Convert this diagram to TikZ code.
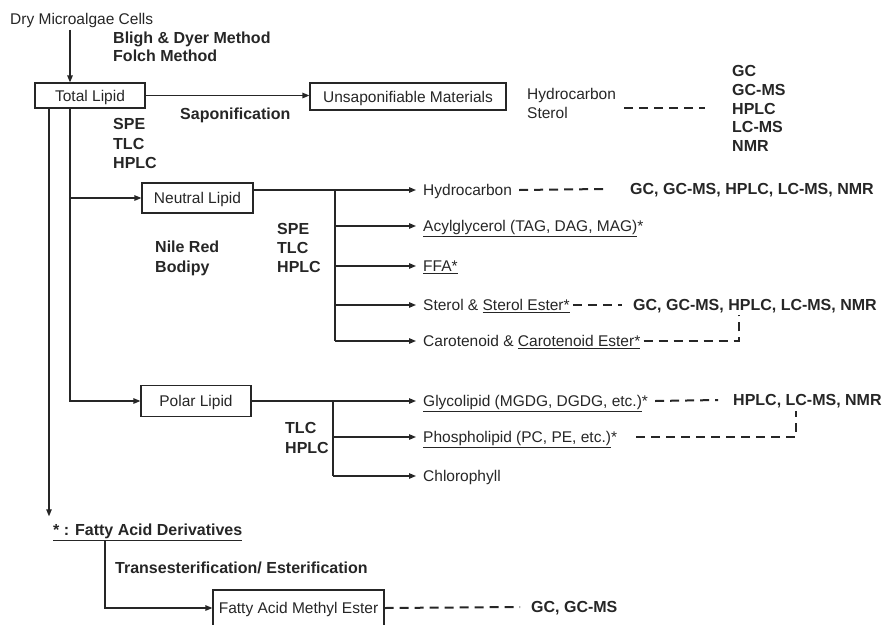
\documentclass[tikz,border=0pt]{standalone}
\usepackage{fontspec}
\setmainfont{Liberation Sans}
\usetikzlibrary{arrows.meta,calc}
\definecolor{ink}{HTML}{262626}
\begin{document}
\begin{tikzpicture}[x=1pt,y=-1pt,
  fbase/.style={font=\fontsize{15.5}{19}\selectfont, text=ink, inner sep=0pt},
  lbl/.style={fbase, text height=11pt, text depth=0pt, anchor=west},
  blbl/.style={lbl, font=\fontsize{16}{19}\selectfont\bfseries},
  itm/.style={lbl, inner xsep=7pt},
  stk/.style={fbase, align=left, anchor=north west},
  bstk/.style={stk, font=\fontsize{16}{#1}\selectfont\bfseries},
  box/.style={fbase, draw=ink, line width=1.2pt, text height=11pt, text depth=0pt},
  conn/.style={draw=ink, line width=1.2pt},
  arr/.style={conn, -{Triangle[length=7pt,width=5.5pt]}},
  dsh/.style={draw=ink, line width=2pt, dash pattern=on 9pt off 6pt}]
\useasboundingbox (0,0) rectangle (882,624);

% texts and boxes
\node[lbl] (dry) at (10,19) {Dry Microalgae Cells};
\node[bstk=18pt] (bligh) at (113,32.2) {Bligh \& Dyer Method\\Folch Method};
\node[box, minimum width=110pt, minimum height=25pt] (total) at (90,95.5) {Total Lipid};
\node[box, minimum width=196pt, minimum height=27pt] (unsap) at (408,96.5) {Unsaponifiable Materials};
\node[blbl] (sapon) at (180,114) {Saponification};
\node[bstk=19.5pt] (spe1) at (113,118.2) {SPE\\TLC\\HPLC};
\node[stk, font=\fontsize{15.5}{19}\selectfont] (hs) at (527,88) {Hydrocarbon\\Sterol};
\node[bstk=18.75pt] (gcs) at (732,65.2) {GC\\GC-MS\\HPLC\\LC-MS\\NMR};

\node[box, minimum width=111pt, minimum height=30pt] (neutral) at (197.5,198) {Neutral Lipid};
\node[bstk=20pt] (nile) at (155,241.2) {Nile Red\\Bodipy};
\node[bstk=19pt] (spe2) at (277,223.2) {SPE\\TLC\\HPLC};

\node[itm] (hc) at (416,190) {Hydrocarbon};
\node[itm] (acyl) at (416,226) {\underline{Acylglycerol (TAG, DAG, MAG)}*};
\node[itm] (ffa) at (416,266) {\underline{FFA*}};
\node[itm] (sterol) at (416,305) {Sterol \& \underline{Sterol Ester*}};
\node[itm] (caro) at (416,341) {Carotenoid \& \underline{Carotenoid Ester*}};
\node[blbl] (gc1) at (630,189) {GC, GC-MS, HPLC, LC-MS, NMR};
\node[blbl] (gc2) at (633,305) {GC, GC-MS, HPLC, LC-MS, NMR};

\node[box, minimum width=110pt, minimum height=31pt] (polar) at (196,401) {Polar Lipid};
\node[bstk=20pt] (tlc) at (285,422.2) {TLC\\HPLC};
\node[itm] (glyco) at (416,401) {\underline{Glycolipid (MGDG, DGDG, etc.)}*};
\node[itm] (phos) at (416,437) {\underline{Phospholipid (PC, PE, etc.)}*};
\node[itm] (chloro) at (416,476) {Chlorophyll};
\node[blbl] (gc3) at (733,400) {HPLC, LC-MS, NMR};

\node[blbl] (fad) at (53,530) {\underline{* : Fatty Acid Derivatives}};
\node[blbl] (trans) at (115,568) {Transesterification/ Esterification};
\node[box, minimum width=171pt, minimum height=36pt] (fame) at (298.5,608) {Fatty Acid Methyl Ester};
\node[blbl] (gc4) at (531,607) {GC, GC-MS};

% helper x positions
\coordinate (xA) at (49,0);
\coordinate (xB) at (70,0);
\coordinate (xN) at (335,0);
\coordinate (xP) at (333,0);
\coordinate (xS) at (739,0);
\coordinate (xG) at (796,0);
\coordinate (xF) at (105,0);

% solid connectors
\draw[arr] ([yshift=-5pt]dry.south -| xB) -- (total.north -| xB);
\draw[arr] (total.east) -- (unsap.west |- total.east);
\draw[arr] (total.south -| xA) -- ([yshift=8pt]fad.north -| xA);
\draw[arr] (total.south -| xB) |- (polar.west);
\draw[arr] (xB |- neutral.west) -- (neutral.west);
\coordinate (nout) at ([yshift=8pt]neutral.east);
\draw[arr] (nout) -- (hc.west |- nout);
\draw[conn] (nout -| xN) -- (caro.west -| xN);
\draw[arr] (acyl.west -| xN) -- (acyl.west);
\draw[arr] (ffa.west -| xN) -- (ffa.west);
\draw[arr] (sterol.west -| xN) -- (sterol.west);
\draw[arr] (caro.west -| xN) -- (caro.west);
\draw[arr] (polar.east) -- (glyco.west);
\draw[conn] (polar.east -| xP) -- (chloro.west -| xP);
\draw[arr] (phos.west -| xP) -- (phos.west);
\draw[arr] (chloro.west -| xP) -- (chloro.west);
\draw[arr] ([yshift=-4.5pt]fad.south -| xF) |- (fame.west);

% dashed connectors
\draw[dsh] ([xshift=8pt]hs.east |- gcs.west) -- ([xshift=-27pt]gcs.west);
\draw[dsh] (hc.east) -- ([xshift=-27pt]gc1.west);
\draw[dsh] ([xshift=-4pt]sterol.east) -- ([xshift=-11pt]gc2.west);
\draw[dsh] ([xshift=-4pt]caro.east) -| ([yshift=-4pt]gc2.south -| xS);
\draw[dsh] (glyco.east) -- ([xshift=-15pt]gc3.west);
\draw[dsh] ([xshift=12pt]phos.east) -| ([yshift=-5pt]gc3.south -| xG);
\draw[dsh] (fame.east) -- ([xshift=-11pt]gc4.west);
\end{tikzpicture}
\end{document}
